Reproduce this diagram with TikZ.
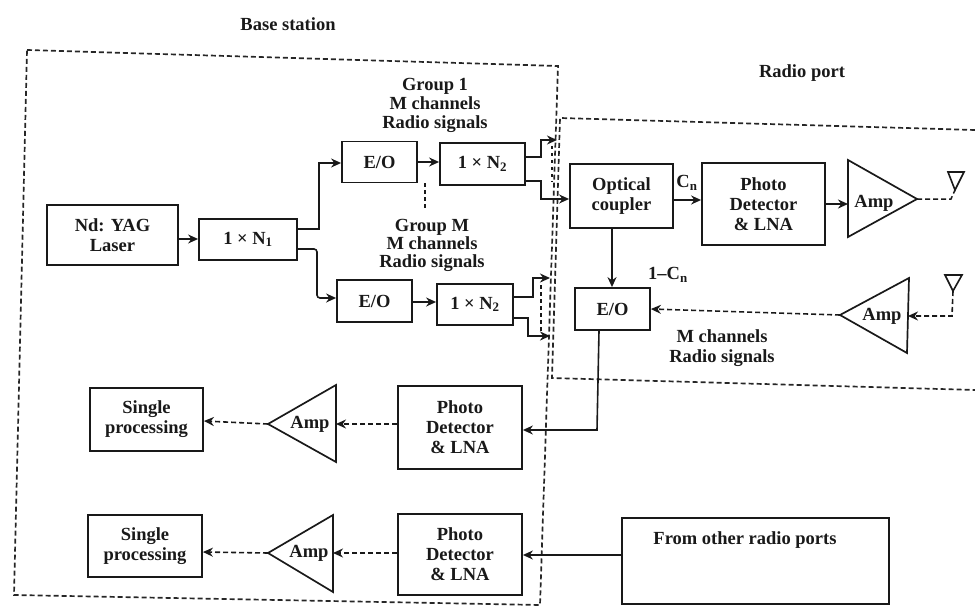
\documentclass[tikz,border=0pt]{standalone}
\usepackage{fontspec}
\setmainfont{Liberation Serif}
\usetikzlibrary{arrows.meta,calc}
\tikzset{
  x=1pt,y=-1pt,
  txt/.style={font=\bfseries\fontsize{18.5}{20}\selectfont,align=center,inner sep=0pt,text=black!90},
  blk/.style={txt,draw=black!90,line width=1.8pt,rectangle,inner sep=0pt},
  tri/.style={draw=black!90,line width=1.7pt,line join=miter},
  ant/.style={draw=black!90,line width=1.6pt},
  conn/.style={draw=black!90,line width=1.6pt,-{Stealth[length=10pt,width=9pt]}},
  plain/.style={draw=black!90,line width=1.5pt},
  dconn/.style={conn,dash pattern=on 5pt off 3pt},
  dplain/.style={plain,dash pattern=on 5pt off 3pt},
  dots/.style={draw=black!90,line width=2.8pt,dash pattern=on 3.5pt off 3.5pt},
  frame/.style={draw=black!85,line width=1.7pt,dash pattern=on 5pt off 3pt}
}
\begin{document}
\begin{tikzpicture}
\useasboundingbox (0,0) rectangle (975,607);
% frames
\draw[frame] (27,50) -- (558,66) -- (540,605) -- (14,595) -- cycle;
\draw[frame] (975,130) -- (560,118) -- (552,378) -- (975,390);
% boxes
\node[blk,minimum width=131pt,minimum height=60pt] (laser) at (112.5,235) {Nd: YAG\\Laser};
\node[blk,minimum width=98pt,minimum height=41pt] (s1) at (248,239.5) {1 × N\textsubscript{1}};
\node[blk,minimum width=75pt,minimum height=41pt] (eo1) at (379.5,162) {E/O};
\node[blk,minimum width=85pt,minimum height=42pt] (s2) at (482.5,164) {1 × N\textsubscript{2}};
\node[blk,minimum width=75pt,minimum height=42pt] (eo2) at (374.5,301) {E/O};
\node[blk,minimum width=76pt,minimum height=41pt] (s3) at (475,304.5) {1 × N\textsubscript{2}};
\node[blk,minimum width=103pt,minimum height=64pt] (coup) at (621.5,196) {Optical\\coupler};
\node[blk,minimum width=123pt,minimum height=82pt] (pd1) at (763.5,204) {Photo\\Detector\\\& LNA};
\node[blk,minimum width=75pt,minimum height=42pt] (eo3) at (612.5,309) {E/O};
\node[blk,minimum width=124pt,minimum height=83pt] (pd2) at (460,427.5) {Photo\\Detector\\\& LNA};
\node[blk,minimum width=124pt,minimum height=81pt] (pd3) at (460,554.5) {Photo\\Detector\\\& LNA};
\node[blk,minimum width=113pt,minimum height=63pt] (sp1) at (146.5,419.5) {Single\\processing};
\node[blk,minimum width=114pt,minimum height=62pt] (sp2) at (145,546) {Single\\processing};
\node[blk,minimum width=267pt,minimum height=86pt,text depth=0pt] (othbox) at (755.5,561) {};
\node[txt] (oth) at (745,540) {From other radio ports};
% amplifiers
\draw[tri] (848,160) -- (917,199) -- (848,237) -- cycle;
\node[txt] (a1) at (874,203) {Amp};
\coordinate (a1in) at (848,204); \coordinate (a1out) at (917,199);
\draw[tri] (909,278) -- (840,315) -- (907,353) -- cycle;
\node[txt] (a2) at (882,316) {Amp};
\coordinate (a2in) at (908,316); \coordinate (a2out) at (840,315);
\draw[tri] (336,385) -- (268,424) -- (336,462) -- cycle;
\node[txt] (a3) at (310,424) {Amp};
\coordinate (a3in) at (336,424); \coordinate (a3out) at (268,424);
\draw[tri] (333,515) -- (268,553) -- (333,592) -- cycle;
\node[txt] (a4) at (309,553) {Amp};
\coordinate (a4in) at (333,553); \coordinate (a4out) at (268,553);
% antennas
\draw[ant] (948,172) -- (964,172) -- (955,190) -- cycle;
\coordinate (t1) at (955,190);
\draw[ant] (945,275) -- (962,275) -- (953,291) -- cycle;
\coordinate (t2) at (953,291);
% labels
\node[txt] (lb) at (288,24) {Base station};
\node[txt] (lr) at (802,73) {Radio port};
\node[txt] (lg1) at (435,105) {Group 1\\[-1pt]M channels\\[-1pt]Radio signals};
\node[txt] (lg2) at (432,245) {Group M\\[-2pt]M channels\\[-2pt]Radio signals};
\node[txt] (lm) at (722,348) {M channels\\Radio signals};
\node[txt] (lc) at (687,183) {C\textsubscript{n}};
\node[txt] (lc2) at (668,275) {1–C\textsubscript{n}};
% connectors
\draw[conn] (laser.east |- 0,239) -- (s1.west |- 0,239);
\draw[conn] (s1.east |- 0,229) -- (319,229) -- (319,163) -- (eo1.west |- 0,163);
\draw[conn,rounded corners=3pt] (s1.east |- 0,249) -- (317,249) -- (317,298) -- (eo2.west |- 0,298);
\draw[conn] (eo1.east |- 0,162) -- (s2.west |- 0,162);
\draw[conn] (eo2.east |- 0,302) -- (s3.west |- 0,302);
\coordinate (o1) at (557,140); \coordinate (o2) at (550,278); \coordinate (o3) at (550,336);
\draw[conn] (s2.east |- 0,157) -- (541,157) -- (541,140) -- (o1);
\draw[conn] (s2.east |- 0,181) -- (541,181) -- (541,199) -- (coup.west |- 0,199);
\draw[conn] (s3.east |- 0,297) -- (533,297) -- (533,278) -- (o2);
\draw[conn] (s3.east |- 0,318) -- (528,318) -- (528,336) -- (o3);
\draw[dots] (552,146) -- (552,182);
\draw[dots] (541,285) -- (541,332);
\draw[dots] (eo1.south -| 425,0) -- (425,211);
\draw[conn] (coup.east |- 0,200) -- (pd1.west |- 0,200);
\draw[conn] (pd1.east |- 0,204) -- (a1in);
\draw[dplain] (a1out) -- (951,199) -- (t1);
\draw[conn] (coup.south -| 612,0) -- (eo3.north -| 612,0);
\draw[dconn] (t2) -- (952,316) -- (a2in);
\draw[dconn] (a2out) -- (eo3.east |- 0,309);
\draw[conn] (eo3.south -| 599,0) -- (597,430) -- (pd2.east |- 0,430);
\draw[dconn] (pd2.west |- 0,424) -- (a3in);
\draw[dconn] (a3out) -- (sp1.east |- 0,421);
\draw[conn] (othbox.west |- 0,555) -- (pd3.east |- 0,555);
\draw[dconn] (pd3.west |- 0,553) -- (a4in);
\draw[dconn] (a4out) -- (sp2.east |- 0,552);
\end{tikzpicture}
\end{document}
